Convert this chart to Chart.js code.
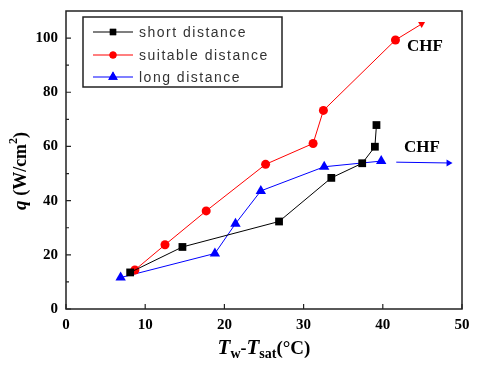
<!DOCTYPE html>
<html>
<head>
<meta charset="utf-8">
<script src="https://cdn.jsdelivr.net/npm/chart.js@4/dist/chart.umd.min.js"></script>
<style>
  html, body { margin: 0; padding: 0; background: #fff; }
  #wrap { width: 489px; height: 372px; }
</style>
</head>
<body>
<div id="wrap"><canvas id="myChart" width="489" height="372"></canvas></div>
<script>
"use strict";

// data
const shortX = [8.1, 14.7, 26.9, 33.5, 37.4, 39.0, 39.2];
const shortY = [13.5, 22.9, 32.3, 48.4, 53.8, 59.9, 67.9];

const suitableX = [8.7, 12.5, 17.7, 25.2, 31.2, 32.5, 41.6, 44.9];
const suitableY = [14.4, 23.7, 36.2, 53.4, 61.1, 73.3, 99.3, 105.2];

const longX = [6.9, 18.8, 21.4, 24.6, 32.6, 39.8];
const longY = [11.6, 20.5, 31.5, 43.6, 52.5, 54.6];

// CHF arrow after the long distance curve
const longArrowX = [41.7, 48.3];
const longArrowY = [54.2, 53.9];

const xTicks = [0, 10, 20, 30, 40, 50];
const yTicks = [0, 20, 40, 60, 80, 100];
const yMinor = [10, 30, 50, 70, 90];

const legendNames = ['short distance', 'suitable distance', 'long distance'];
const legendColors = ['#000', '#ff0000', '#0000ff'];
const legendStyles = ['rect', 'circle', 'triangle'];
const legendRadius = [4.5, 3.5, 5.5];

function pts(xs, ys) {
    return xs.map((x, i) => ({ x: x, y: ys[i] }));
}

const lastRed = suitableX.length - 1;

const ctx = document.getElementById('myChart');

// frame, inward ticks, axis titles, legend, CHF labels
const decor = {
    id: 'decor',
    afterDraw(chart) {
        const c = chart.ctx;
        const a = chart.chartArea;
        const xs = chart.scales.x;
        const ys = chart.scales.y;
        c.save();
        c.strokeStyle = '#222';
        c.lineWidth = 1.5;
        c.strokeRect(a.left, a.top, a.right - a.left, a.bottom - a.top);

        c.lineWidth = 1.2;
        c.beginPath();
        xTicks.forEach(v => {
            const px = xs.getPixelForValue(v);
            c.moveTo(px, a.bottom);
            c.lineTo(px, a.bottom - 5);
        });
        yTicks.forEach(v => {
            const py = ys.getPixelForValue(v);
            c.moveTo(a.left, py);
            c.lineTo(a.left + 5, py);
        });
        yMinor.forEach(v => {
            const py = ys.getPixelForValue(v);
            c.moveTo(a.left, py);
            c.lineTo(a.left + 3, py);
        });
        c.stroke();

        // y title
        c.fillStyle = '#000';
        c.save();
        c.translate(21, 171);
        c.rotate(-Math.PI / 2);
        c.textBaseline = 'middle';
        c.font = 'italic bold 19px "Liberation Serif"';
        const qW = c.measureText('q ').width;
        c.font = 'bold 18px "Liberation Serif"';
        const mainW = c.measureText('(W/cm').width;
        c.font = 'bold 12px "Liberation Serif"';
        const supW = c.measureText('2').width;
        c.font = 'bold 18px "Liberation Serif"';
        const closeW = c.measureText(')').width;
        let x0 = -(qW + mainW + supW + closeW) / 2;
        c.textAlign = 'left';
        c.font = 'italic bold 19px "Liberation Serif"';
        c.fillText('q ', x0, 0);
        x0 += qW;
        c.font = 'bold 18px "Liberation Serif"';
        c.fillText('(W/cm', x0, 0);
        x0 += mainW;
        c.font = 'bold 12px "Liberation Serif"';
        c.fillText('2', x0, -7);
        x0 += supW;
        c.font = 'bold 18px "Liberation Serif"';
        c.fillText(')', x0, 0);
        c.restore();

        // x title: Tw-Tsat(°C)
        const parts = [
            ['T', 'italic bold 21px "Liberation Serif"', 0],
            ['w', 'bold 14px "Liberation Serif"', 4],
            ['-', 'bold 18px "Liberation Serif"', 0],
            ['T', 'italic bold 21px "Liberation Serif"', 0],
            ['sat', 'bold 14px "Liberation Serif"', 4],
            ['(°C)', 'bold 19px "Liberation Serif"', 0]
        ];
        let total = 0;
        parts.forEach(p => { c.font = p[1]; total += c.measureText(p[0]).width; });
        let tx = 264 - total / 2;
        c.textAlign = 'left';
        c.textBaseline = 'alphabetic';
        parts.forEach(p => {
            c.font = p[1];
            c.fillText(p[0], tx, 354 + p[2]);
            tx += c.measureText(p[0]).width;
        });

        // CHF labels
        c.font = 'bold 17px "Liberation Serif"';
        c.textAlign = 'center';
        c.textBaseline = 'middle';
        c.fillText('CHF', 425, 47);
        c.fillText('CHF', 422, 148);

        // legend
        c.fillStyle = '#fff';
        c.fillRect(83, 17, 199, 70);
        c.strokeStyle = '#222';
        c.lineWidth = 1.5;
        c.strokeRect(83, 17, 199, 70);
        const rowY = [32, 55, 77];
        for (let i = 0; i < 3; i++) {
            c.strokeStyle = legendColors[i];
            c.lineWidth = 1.2;
            c.beginPath();
            c.moveTo(93, rowY[i]);
            c.lineTo(133, rowY[i]);
            c.stroke();
            c.fillStyle = legendColors[i];
            Chart.helpers.drawPoint(c, {
                pointStyle: legendStyles[i],
                radius: legendRadius[i],
                rotation: 0,
                borderWidth: 0
            }, 113, rowY[i]);
            c.fill();
            c.fillStyle = '#333';
            c.font = '14px "Liberation Sans"';
            c.letterSpacing = '1.5px';
            c.textAlign = 'left';
            c.textBaseline = 'middle';
            c.fillText(legendNames[i], 139, rowY[i] + 1);
            c.letterSpacing = '0px';
        }
        c.restore();
    }
};

new Chart(ctx, {
    type: 'scatter',
    data: {
        datasets: [{
            label: legendNames[0],
            data: pts(shortX, shortY),
            showLine: true,
            borderColor: '#000',
            backgroundColor: '#000',
            borderWidth: 1,
            pointStyle: 'rect',
            pointRadius: 5.5,
            pointBorderWidth: 0
        }, {
            label: legendNames[1],
            data: pts(suitableX, suitableY),
            showLine: true,
            borderColor: '#ff0000',
            backgroundColor: '#ff0000',
            borderWidth: 1,
            pointStyle: suitableX.map((v, i) => i === lastRed ? 'triangle' : 'circle'),
            pointRadius: suitableX.map((v, i) => i === lastRed ? 4 : 4.5),
            pointRotation: suitableX.map((v, i) => i === lastRed ? 59 : 0),
            pointBorderWidth: 0
        }, {
            label: legendNames[2],
            data: pts(longX, longY),
            showLine: true,
            borderColor: '#0000ff',
            backgroundColor: '#0000ff',
            borderWidth: 1,
            pointStyle: 'triangle',
            pointRadius: 6,
            pointBorderWidth: 0
        }, {
            label: 'arrow',
            data: pts(longArrowX, longArrowY),
            showLine: true,
            borderColor: '#0000ff',
            backgroundColor: '#0000ff',
            borderWidth: 1,
            pointStyle: 'triangle',
            pointRadius: [0, 4],
            pointRotation: 90,
            pointBorderWidth: 0
        }]
    },
    options: {
        responsive: false,
        animation: false,
        layout: { padding: { left: 0, right: 27, top: 11, bottom: 0 } },
        plugins: {
            legend: { display: false },
            tooltip: { enabled: false }
        },
        scales: {
            x: {
                type: 'linear',
                min: 0,
                max: 50,
                afterFit(scale) {
                    scale.height = 63;
                    scale.paddingLeft = 0;
                    scale.paddingRight = 0;
                },
                afterBuildTicks(scale) { scale.ticks = xTicks.map(v => ({ value: v })); },
                grid: { display: false, drawTicks: false, tickLength: 0 },
                border: { display: false },
                ticks: {
                    color: '#000',
                    padding: 7,
                    font: { family: '"Liberation Serif"', weight: 'bold', size: 15 }
                }
            },
            y: {
                type: 'linear',
                min: 0,
                max: 110,
                afterFit(scale) {
                    scale.width = 66;
                    scale.paddingTop = 0;
                    scale.paddingBottom = 0;
                },
                afterBuildTicks(scale) { scale.ticks = yTicks.map(v => ({ value: v })); },
                grid: { display: false, drawTicks: false, tickLength: 0 },
                border: { display: false },
                ticks: {
                    color: '#000',
                    padding: 8,
                    font: { family: '"Liberation Serif"', weight: 'bold', size: 15 }
                }
            }
        }
    },
    plugins: [decor]
});
</script>
</body>
</html>
